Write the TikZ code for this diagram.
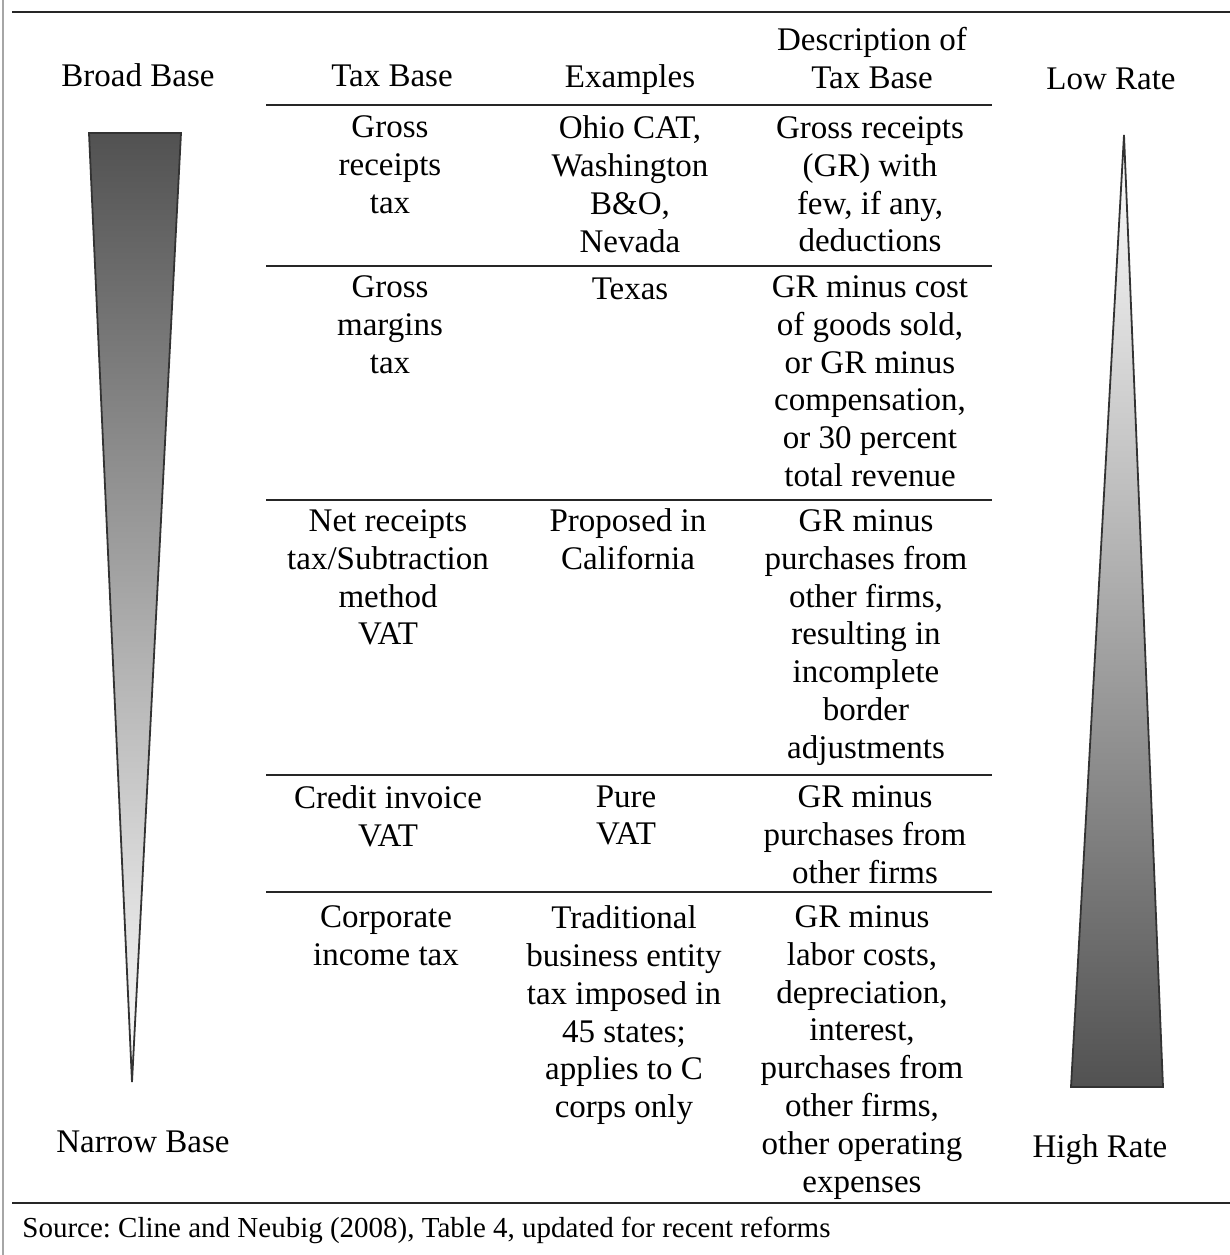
\documentclass[tikz,border=0pt]{standalone}
\usepackage{fontspec}
\setmainfont{Liberation Serif}
\frenchspacing

\begin{document}
\begin{tikzpicture}[x=0.5pt, y=-0.5pt,
  cell/.style = {inner sep=0pt, anchor=north, align=center,
    font=\fontsize{16.5}{18.95}\selectfont, execute at begin node=\strut},
  rule/.style = {line width=1.2pt, black!85},
  wedge/.style = {draw=black!80, line width=0.9pt}]
\useasboundingbox (0,0) rectangle (1230,1255);
\draw[black!35, line width=0.8pt] (3,0) -- (3,1255);
\draw[rule] (12,12) -- (1230,12);
\draw[rule] (12,1203) -- (1230,1203);
\foreach \y in {105,266,500,775,892}
  \draw[rule] (266,\y) -- (992,\y);

\shadedraw[wedge, top color=black!68, middle color=black!32, bottom color=white]
  (89,133) -- (181,133) -- (132,1082) -- cycle;
\shadedraw[wedge, top color=white, middle color=black!25, bottom color=black!68]
  (1124,135) -- (1163,1087) -- (1071,1087) -- cycle;

\node[cell] (broad) at (138,60) {Broad Base};
\node[cell] (taxbase) at (392,60) {Tax Base};
\node[cell] (examples) at (630,61) {Examples};
\node[cell] (descr) at (872,27) {Description of\\Tax Base};
\node[cell] (low) at (1111,63) {Low Rate};

\node[cell] (base1) at (390,115) {Gross\\receipts\\tax};
\node[cell] (ex1) at (630,115) {Ohio CAT,\\Washington\\B\&O,\\Nevada};
\node[cell] (desc1) at (870,116) {Gross receipts\\(GR) with\\few, if any,\\deductions};

\node[cell] (base2) at (390,275) {Gross\\margins\\tax};
\node[cell] (ex2) at (630,273) {Texas};
\node[cell] (desc2) at (870,275) {GR minus cost\\of goods sold,\\or GR minus\\compensation,\\or 30 percent\\total revenue};

\node[cell] (base3) at (388,509) {Net receipts\\tax/Subtraction\\method\\VAT};
\node[cell] (ex3) at (628,508) {Proposed in\\California};
\node[cell] (desc3) at (866,509) {GR minus\\purchases from\\other firms,\\resulting in\\incomplete\\border\\adjustments};

\node[cell] (base4) at (388,785) {Credit invoice\\VAT};
\node[cell] (ex4) at (626,785) {Pure\\VAT};
\node[cell] (desc4) at (865,785) {GR minus\\purchases from\\other firms};

\node[cell] (base5) at (386,905) {Corporate\\income tax};
\node[cell] (ex5) at (624,905) {Traditional\\business entity\\tax imposed in\\45 states;\\applies to C\\corps only};
\node[cell] (desc5) at (862,905) {GR minus\\labor costs,\\depreciation,\\interest,\\purchases from\\other firms,\\other operating\\expenses};

\node[cell] (narrow) at (143,1126) {Narrow Base};
\node[cell] (high) at (1100,1131) {High Rate};

\node[anchor=base west, inner sep=0pt, font=\fontsize{14.5}{17}\selectfont] (source) at (22,1237)
  {Source: Cline and Neubig (2008), Table 4, updated for recent reforms};
\end{tikzpicture}
\end{document}
